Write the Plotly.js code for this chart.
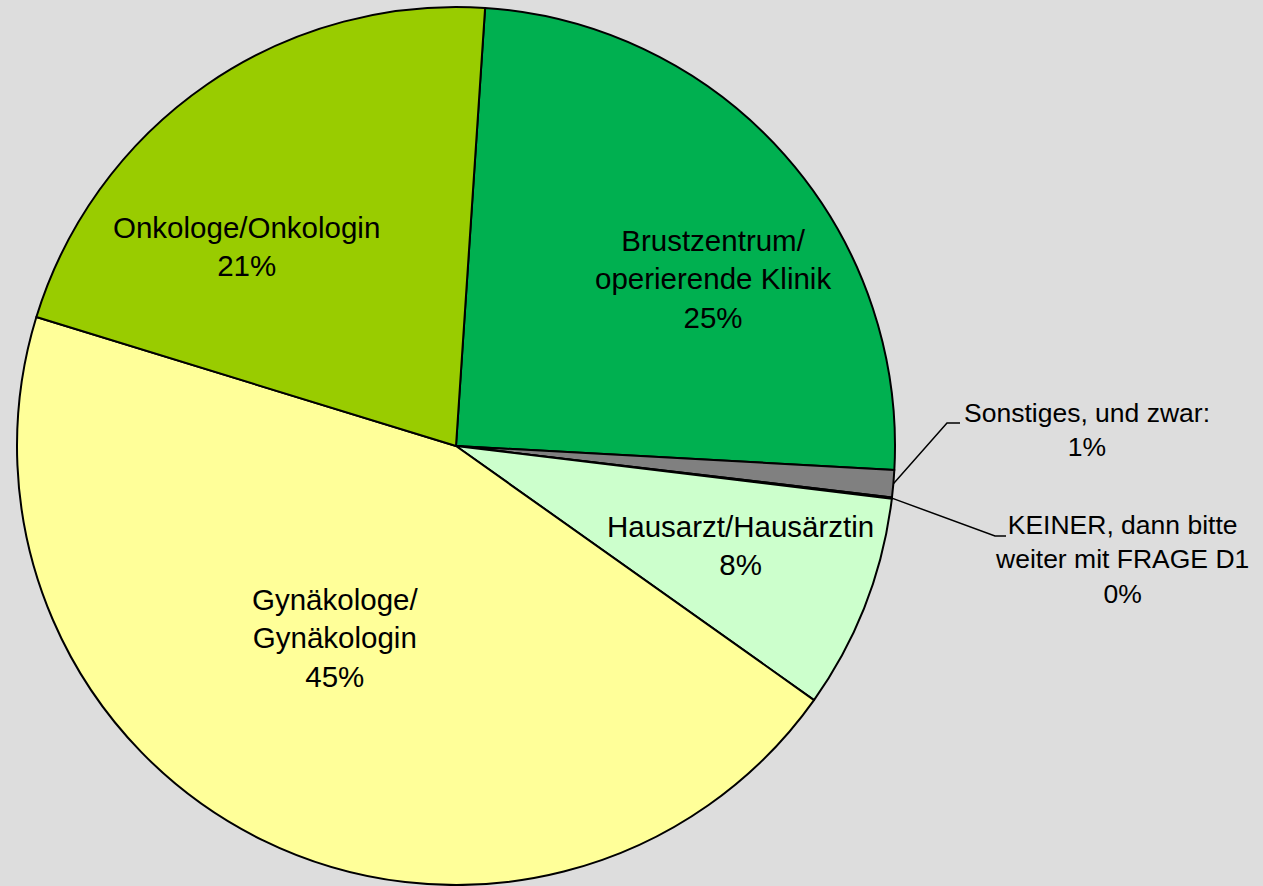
<!DOCTYPE html>
<html>
<head>
<meta charset="utf-8">
<script src="https://cdn.plot.ly/plotly-3.0.1.min.js"></script>
<style>html,body{margin:0;padding:0;background:#dddddd;}</style>
</head>
<body>
<div id="chart" style="width:1263px;height:886px;"></div>
<script>
// Data (clockwise from the top)
var labels = ["Brustzentrum/<br>operierende Klinik", "Sonstiges, und zwar:", "KEINER, dann bitte<br>weiter mit FRAGE D1", "Hausarzt/Hausärztin", "Gynäkologe/<br>Gynäkologin", "Onkologe/Onkologin"];
var values = [24.8, 1.0, 0.05, 7.9, 44.9, 21.3];
var colors = ["#00b050", "#808080", "#c0c0c0", "#ccffcc", "#ffff99", "#99cc00"];

var W = 1263, H = 886;
var cx = 456, cy = 446, R = 439;
var startAngle = 3.8;

function px(x){ return x / W; }
function py(y){ return (H - y) / H; }

var total = values.reduce(function(a,b){return a+b;}, 0);
var pct = values.map(function(v){ return Math.round(v / total * 100) + "%"; });

var trace = {
  type: "pie",
  values: values,
  labels: labels,
  sort: false,
  direction: "clockwise",
  rotation: startAngle,
  marker: {colors: colors, line: {color: "#000000", width: 2}},
  textinfo: "none",
  hoverinfo: "skip",
  showlegend: false,
  domain: {x: [px(cx - R), px(cx + R)], y: [py(cy + R), py(cy - R)]}
};

// label positions (pixel) for each slice
var labelPos = [[713, 279, 29.5], [1087, 430, 26.5], [1122, 559, 26.5], [740, 545, 29.5], [335, 638, 29.5], [246, 247, 29.5]];

var annotations = labels.map(function(l, i){
  return {
    xref: "paper", yref: "paper",
    x: px(labelPos[i][0]), y: py(labelPos[i][1]),
    xanchor: "center", yanchor: "middle",
    text: l + "<br>" + pct[i],
    showarrow: false,
    align: "center",
    font: {family: "Liberation Sans, Arial, sans-serif", size: labelPos[i][2], color: "#000000"}
  };
});

// leader lines from the middle of the small slices' arcs
function midPoint(idx){
  var before = 0;
  for (var k = 0; k < idx; k++) before += values[k];
  var ang = (startAngle + (before + values[idx] / 2) / total * 360) * Math.PI / 180;
  return [cx + R * Math.sin(ang), cy - R * Math.cos(ang)];
}
var m1 = midPoint(1), m2 = midPoint(2);
function pathOf(pts){
  return pts.map(function(p, i){ return (i ? "L" : "M") + px(p[0]) + "," + py(p[1]); }).join(" ");
}
var shapes = [
  {type: "path", xref: "paper", yref: "paper", path: pathOf([m1, [947, 423], [960, 423]]), line: {color: "#000000", width: 1.5}},
  {type: "path", xref: "paper", yref: "paper", path: pathOf([m2, [995, 536], [1006, 536]]), line: {color: "#000000", width: 1.5}}
];

var layout = {
  width: W, height: H,
  margin: {l: 0, r: 0, t: 0, b: 0},
  paper_bgcolor: "#dddddd",
  plot_bgcolor: "#dddddd",
  annotations: annotations,
  shapes: shapes,
  showlegend: false
};

Plotly.newPlot("chart", [trace], layout, {displayModeBar: false, staticPlot: true});
</script>
</body>
</html>
